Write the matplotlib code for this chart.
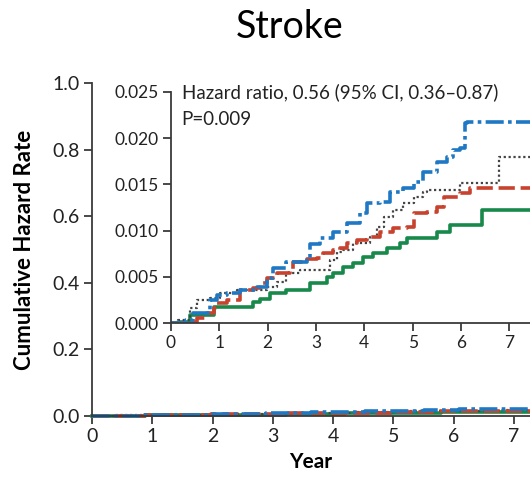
import matplotlib
matplotlib.use('Agg')
import matplotlib.pyplot as plt

# cumulative hazard (x0.001), step times in years
blue_t = [0, 0.32, 0.46, 0.81, 0.95, 1.15, 1.43, 1.77, 1.98, 2.12, 2.39, 2.81, 2.88, 3.08, 3.36,
          3.64, 3.91, 4.05, 4.33, 4.53, 4.81, 5.02, 5.22, 5.50, 5.71, 5.84, 5.98, 6.09, 6.12, 7.6]
blue_v = [0, 0.32, 1.05, 2.49, 3.03, 3.21, 3.57, 3.93, 4.83, 5.91, 6.64, 7.0, 8.6, 9.16, 9.88,
          10.78, 11.86, 12.95, 13.13, 14.21, 14.57, 15.29, 16.37, 17.46, 18.0, 18.72, 18.9, 21.6, 21.8, 21.8]

red_t = [0, 0.46, 0.53, 0.74, 0.88, 0.95, 1.15, 1.43, 1.70, 1.84, 1.98, 2.19, 2.46, 2.53, 2.81, 3.02,
         3.15, 3.36, 3.50, 3.64, 3.84, 4.05, 4.33, 4.60, 4.88, 5.02, 5.29, 5.50, 5.64, 5.98, 6.19, 7.6]
red_v = [0, 0.14, 0.5, 1.05, 1.59, 2.13, 2.49, 3.57, 3.75, 4.29, 4.83, 5.37, 5.73, 6.64, 6.89, 7.0,
         7.54, 7.90, 8.08, 8.62, 8.98, 9.34, 9.88, 10.24, 10.42, 11.86, 12.04, 12.59, 13.67, 14.03, 14.57, 14.57]

black_t = [0, 0.15, 0.39, 0.53, 0.81, 1.01, 1.36, 1.98, 2.19, 2.39, 2.67, 3.29, 3.43, 3.57, 3.77,
           4.12, 4.26, 4.40, 4.60, 4.81, 5.02, 5.22, 5.29, 5.98, 6.78, 7.6]
black_v = [0, 0.32, 1.59, 2.49, 2.67, 3.21, 3.57, 3.93, 4.47, 5.37, 5.73, 6.81, 7.72, 7.90, 8.62,
           9.34, 10.42, 11.5, 12.23, 12.95, 13.67, 14.21, 14.39, 15.11, 18.0, 18.0]

green_t = [0, 0.15, 0.39, 0.88, 1.70, 1.84, 2.05, 2.39, 2.88, 3.22, 3.36, 3.57, 3.77, 3.98, 4.19,
           4.47, 4.74, 4.88, 5.50, 5.78, 6.43, 7.6]
green_v = [0, 0.14, 0.86, 1.77, 2.31, 2.56, 3.21, 3.57, 4.29, 5.01, 5.37, 6.09, 6.45, 7.17, 7.61,
           8.08, 8.62, 9.16, 9.88, 10.6, 12.23, 12.23]

main_yticks = [0.0, 0.2, 0.4, 0.6, 0.8, 1.0]
inset_yticks = [0.000, 0.005, 0.010, 0.015, 0.020, 0.025]
years = [0, 1, 2, 3, 4, 5, 6, 7]

styles = [
    (green_t, green_v, dict(color='#17894a', lw=2.6, ls='-')),
    (black_t, black_v, dict(color='#444444', lw=1.6, ls=(0, (1.0, 1.2)))),
    (red_t, red_v, dict(color='#c8422e', lw=2.6, ls=(0, (4.5, 1.6)))),
    (blue_t, blue_v, dict(color='#1f78c4', lw=2.6, ls=(0, (5.0, 1.2, 1.0, 1.2)))),
]

plt.rcParams['font.family'] = ['Lato', 'DejaVu Sans']
spine_col = '#3a3a3a'

fig = plt.figure(figsize=(5.3, 5.0), dpi=100)
fig.text(0.547, 0.946, 'Stroke', ha='center', va='center', fontsize=27, color='black')


def style_axes(ax, fs):
    for s in ['top', 'right']:
        ax.spines[s].set_visible(False)
    for s in ['left', 'bottom']:
        ax.spines[s].set_color(spine_col)
        ax.spines[s].set_linewidth(1.3)
    ax.tick_params(direction='out', length=6, width=1.3, color=spine_col,
                   labelsize=fs, labelcolor='#222222', pad=3)


ax = fig.add_axes([0.1736, 0.168, 0.8264, 0.666])
for t, v, kw in styles:
    ax.step(t, [x / 1000 for x in v], where='post', clip_on=False, **kw)
ax.set_xlim(0, 7.264)
ax.set_ylim(0, 1.0)
ax.set_xticks(years)
ax.set_yticks(main_yticks)
ax.set_yticklabels(['%.1f' % y for y in main_yticks])
style_axes(ax, 14)
ax.set_ylabel('Cumulative Hazard Rate', fontsize=16, fontweight='bold', labelpad=12)
ax.set_xlabel('Year', fontsize=15, fontweight='bold', labelpad=5)

ins = fig.add_axes([0.3226, 0.354, 0.6774, 0.462])
ins.patch.set_alpha(0)
for t, v, kw in styles:
    ins.step(t, [x / 1000 for x in v], where='post', **kw)
ins.set_xlim(0, 7.43)
ins.set_ylim(0, 0.025)
ins.set_xticks(years)
ins.set_yticks(inset_yticks)
ins.set_yticklabels(['%.3f' % y for y in inset_yticks])
style_axes(ins, 12.5)
ins.text(0.03, 1.0, 'Hazard ratio, 0.56 (95% CI, 0.36\u20130.87)',
         transform=ins.transAxes, ha='left', va='center', fontsize=13.5, color='#222222')
ins.text(0.03, 0.879, 'P=0.009',
         transform=ins.transAxes, ha='left', va='center', fontsize=13.5, color='#222222')

fig.savefig('out.png', dpi=100)
